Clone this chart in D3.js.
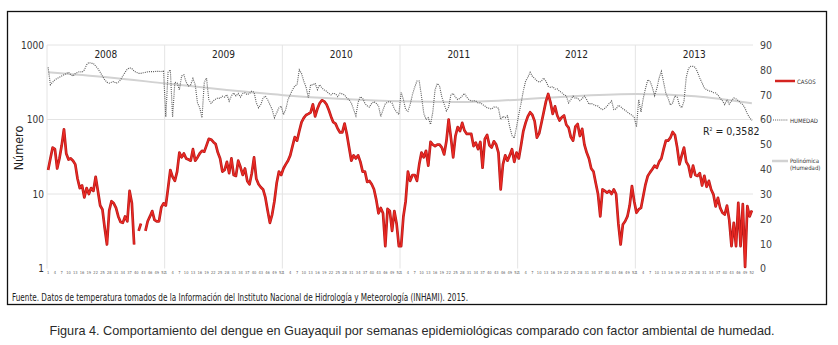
<!DOCTYPE html>
<html>
<head>
<meta charset="utf-8">
<script src="https://cdnjs.cloudflare.com/ajax/libs/d3/7.8.5/d3.min.js"></script>
<style>
  body { margin: 0; background: #fff; }
  svg text { font-family: "Liberation Sans Narrow", "DejaVu Sans Condensed", "Liberation Sans", Arial, sans-serif; }
  .domain { display: none; }
</style>
</head>
<body>
<svg width="838" height="345"></svg>
<script>
// casos de dengue por semana epidemiologica (null = sin dato)
var casos2008 = [21,30,42,40,22,30,45,74,35,29,30,28,25,16,12,13,9,12,10,12,11,17,11,7,6.2,3.5,2.1,6,8,7.5,6.5,5,4.2,4.1,5,4.3,11,7.6,2.1,null,3.2,4,null,3.2,4.3,5,5.9,4.5,4.3,4.3,6.6,7.5]
var casos2009 = [7,12,21,17,15,20,36,31,35,30,29,28,40,28,31,35,38,37,45,55,54,50,47,36,30,20,21,27,19,30,18,17.5,28,23,18,22,15,13.5,19,31,16,13.5,12.3,11.5,9,6,4.1,5.3,8,14,20,18]
var casos2010 = [22,25,28,33,44,58,52,70,92,105,115,119,125,160,110,139,165,181,175,160,135,110,92,88,75,67,67,88,64,42,28,33,30,33,27,20,20,14.5,15,13.5,11.6,8.4,5.5,6.5,5.5,2,6.3,5.9,3.2,5.9,4,2]
var casos2011 = [2,5,8,20,15,18,18,15,25,36,31,38,24,50,46,44,46,46,42,34,51,100,57,31,60,79,70,90,71,64,64,64,44,49,40,50,22.5,55,62,45,42,51,46,36,11.5,25,33,28,33,40,27,36]
var casos2012 = [30,45,70,90,110,125,115,95,57,65,90,125,175,220,170,119,150,113,97,107,113,85,78,58,52,80,87,60,75,46,36,30,22,20,14,10,5,11.5,11,10.4,11,10,11.5,10,4,2.1,3.9,4.3,5,7,12.8,8]
var casos2013 = [5.6,6.2,6.5,9.4,13.5,17.5,19.5,21.5,24,22.5,27,30,40,52,52,57,68,62,42,25,33,42,27,24,17,24,18,17.5,19,13,17.5,12.5,15,11.5,9.9,6.8,8.9,6.5,5.6,5.3,7,4.5,2,4.1,2,7.6,2,7.3,1.05,6.9,5,6]

// humedad relativa semanal (%)
var humedad2008 = [81,74,75,76,76.5,77,77.5,78,78.5,79,78,77.5,78.5,79,79.3,79,80,82,83,82.6,82.6,81.5,80.5,79,77.5,76,75,74.6,75,75.3,74.6,75,76,77.5,79,80.3,80.8,80.5,79.5,79,78.6,78.6,78.8,79,79.2,79.3,79.3,79.3,79.4,79.4,79.3,79.5]
var humedad2009 = [61,79,80,61,75,74.7,72,77.5,78,75,73.5,74,76.5,74,66.7,64.7,60.7,75,76.7,68,66.5,67.5,68.2,68.7,68.5,69.4,69,70,67.4,69.5,70.7,69.5,70.5,69,70.5,70.7,70,70.5,71.4,71,66.7,64.7,66,68.7,69.4,68,66,64,60.7,62.7,64.7,65.4]
var humedad2010 = [62,64,68,70,72,73.5,74,80,78.5,75.4,73,68.7,74,73.9,74.6,72,74,72.7,71.9,71.4,70.5,69.9,70.6,70.3,69.2,70.6,70.3,69.9,68.6,68,66.6,64,61.5,67,69.2,68.5,66.5,65.5,65,66.5,67.2,66.5,65.5,61.2,63.9,66.3,67,67.2,66.6,64.3,63,62]
var humedad2011 = [71,68,64,63.3,66,70,73,75.5,75.5,69.4,62.5,60,60.7,58,63,72,74.5,73.4,69,66.2,63.5,65,70,70.5,69,68,68.5,69.5,70.5,69,68,67.4,67.6,67.4,66.7,66.7,66,65.4,64.7,64.5,64.2,65,65,64.5,60,61.3,60.7,61.5,57,53.5,52.5,57]
var humedad2012 = [62,66.5,71.5,75.4,77,79,77.4,76.5,75.6,75,75.5,76.7,75.4,73.4,72.9,73.2,72.2,72.3,71.4,70.8,70,69.5,66.7,68,69.4,68.5,68.7,67.6,68.4,69.4,68,66.2,66.5,66,65.6,65.4,64.5,64,64.5,65.4,66.5,67.5,64,64.2,65.7,65.2,64.3,63.7,63,62.3,61.7,61]
var humedad2013 = [57,68,63,68.5,72.5,76,75.4,73,69.6,72.5,76.7,79.4,75,70.5,68.5,65.8,66.7,69.5,69,65.8,64.7,67.4,77,80.6,81.4,81.4,81,79,76.7,74.7,72.7,72,71.5,71.4,70.8,70.7,69.8,68.6,67.5,66,68,66.2,67.5,68.7,68.3,67.6,66.7,66,64.5,62.3,60.8,59.6]

// linea polinomica (humedad)
var semanasTendencia = [0,26,52,78,104,130,156,182,208,234,260,286,311]
var valoresTendencia = [79,77,74.5,72,69.8,68.3,67.3,67,68,69.5,70.3,69.4,66.5]

var anios = ["2008","2009","2010","2011","2012","2013"]
var semanasEtiquetas = [1,4,7,10,13,16,19,22,25,28,31,34,37,40,43,46,49,52]
var ticksCasos = [1,10,100,1000]
var ticksHumedad = [0,10,20,30,40,50,60,70,80,90]

var casos = [].concat(casos2008, casos2009, casos2010, casos2011, casos2012, casos2013)
var humedad = [].concat(humedad2008, humedad2009, humedad2010, humedad2011, humedad2012, humedad2013)
var n = casos.length

var svg = d3.select("svg")

var x = d3.scaleLinear().domain([-0.5, n - 0.5]).range([47, 753])
var yLog = d3.scaleLog().domain([1, 1000]).range([268.5, 45])
var yHum = d3.scaleLinear().domain([0, 90]).range([268.5, 45])

// marco
svg.append("rect")
  .attr("x", 7.5).attr("y", 11.5).attr("width", 819).attr("height", 293)
  .attr("fill", "none").attr("stroke", "#111").attr("stroke-width", 1.3)

// rejilla
svg.append("g").selectAll("line")
  .data([10, 100, 1000])
  .enter().append("line")
    .attr("x1", x(-0.5)).attr("x2", x(n - 0.5))
    .attr("y1", d => yLog(d)).attr("y2", d => yLog(d))
    .attr("stroke", "#e4e4e4")

svg.append("g").selectAll("line")
  .data(anios)
  .enter().append("line")
    .attr("x1", (d, i) => x(i * 52 - 0.5)).attr("x2", (d, i) => x(i * 52 - 0.5))
    .attr("y1", yLog(1000)).attr("y2", yLog(1))
    .attr("stroke", "#e4e4e4")

// ejes
svg.append("g")
  .attr("transform", "translate(45,0)")
  .call(d3.axisLeft(yLog).tickValues(ticksCasos).tickFormat(d3.format("d")).tickSize(0).tickPadding(1))
  .selectAll("text").style("font-size", "10px").style("fill", "#333")

svg.append("g")
  .attr("transform", "translate(760,0)")
  .call(d3.axisRight(yHum).tickValues(ticksHumedad).tickSize(0).tickPadding(0))
  .selectAll("text").style("font-size", "10.5px").style("fill", "#444")

svg.append("text")
  .attr("transform", "translate(23,148) rotate(-90)")
  .attr("text-anchor", "middle")
  .style("font-size", "12.5px").style("fill", "#222")
  .text("Número")

// anios
svg.append("g").selectAll("text")
  .data(anios)
  .enter().append("text")
    .attr("x", (d, i) => x(i * 52 + 25.5))
    .attr("y", 58)
    .attr("text-anchor", "middle")
    .style("font-size", "10px").style("fill", "#222")
    .text(d => d)

// semanas
anios.forEach(function(a, k) {
  svg.append("g").selectAll("text")
    .data(semanasEtiquetas)
    .enter().append("text")
      .attr("x", d => x(k * 52 + d - 1))
      .attr("y", 274)
      .attr("text-anchor", "middle")
      .style("font-size", "4px").style("fill", "#666")
      .text(d => d)
})

// tendencia polinomica
svg.append("path")
  .datum(semanasTendencia.map((s, i) => [s, valoresTendencia[i]]))
  .attr("fill", "none").attr("stroke", "#d2d2d2").attr("stroke-width", 2)
  .attr("d", d3.line().x(d => x(d[0])).y(d => yHum(d[1])).curve(d3.curveMonotoneX))

// humedad
svg.append("path")
  .datum(humedad)
  .attr("fill", "none").attr("stroke", "#5c5c5c").attr("stroke-width", 1.15)
  .attr("stroke-dasharray", "1 1.1")
  .attr("d", d3.line().x((d, i) => x(i)).y(d => yHum(d)))

// casos
var lineaCasos = d3.line()
  .defined(d => d != null)
  .x((d, i) => x(i)).y(d => yLog(d))

svg.append("path")
  .datum(casos)
  .attr("fill", "none").attr("stroke", "#b51a1a").attr("stroke-width", 2.7)
  .attr("stroke-linejoin", "round")
  .attr("d", lineaCasos)

svg.append("path")
  .datum(casos)
  .attr("fill", "none").attr("stroke", "#ec2a24").attr("stroke-width", 1.3)
  .attr("stroke-linejoin", "round")
  .attr("d", lineaCasos)

// R2
var r2 = svg.append("text").attr("x", 703).attr("y", 135)
  .style("font-size", "10.5px").style("fill", "#222")
r2.append("tspan").text("R")
r2.append("tspan").attr("dy", -4).style("font-size", "5px").text("2")
r2.append("tspan").attr("dy", 4).text(" = 0,3582")

// leyenda
var leyenda = svg.append("g").style("font-size", "6px").style("fill", "#333")
leyenda.append("line").attr("x1", 775).attr("x2", 795).attr("y1", 81).attr("y2", 81)
  .attr("stroke", "#d42420").attr("stroke-width", 2.5)
leyenda.append("text").attr("x", 797).attr("y", 83.5).text("CASOS")
leyenda.append("line").attr("x1", 773).attr("x2", 788).attr("y1", 120).attr("y2", 120)
  .attr("stroke", "#5c5c5c").attr("stroke-width", 1.2).attr("stroke-dasharray", "1 1.1")
leyenda.append("text").attr("x", 790).attr("y", 122.5).text("HUMEDAD")
leyenda.append("line").attr("x1", 772).attr("x2", 788).attr("y1", 161).attr("y2", 161)
  .attr("stroke", "#d2d2d2").attr("stroke-width", 2.5)
leyenda.append("text").attr("x", 790).attr("y", 162.5).text("Polinómica")
leyenda.append("text").attr("x", 790).attr("y", 169.5).text("(Humedad)")

// fuente
svg.append("text")
  .attr("x", 12).attr("y", 300.5)
  .attr("textLength", 456).attr("lengthAdjust", "spacingAndGlyphs")
  .style("font-size", "10px").style("fill", "#222")
  .text("Fuente. Datos de temperatura tomados de la Información del Instituto Nacional de Hidrología y Meteorología (INHAMI). 2015.")

// titulo de la figura
svg.append("text")
  .attr("x", 412).attr("y", 334.5)
  .attr("text-anchor", "middle")
  .attr("textLength", 725).attr("lengthAdjust", "spacingAndGlyphs")
  .style("font-family", "'Liberation Sans', Arial, sans-serif")
  .style("font-size", "13px").style("fill", "#2a2a2a")
  .text("Figura 4. Comportamiento del dengue en Guayaquil por semanas epidemiológicas comparado con factor ambiental de humedad.")
</script>
</body>
</html>
